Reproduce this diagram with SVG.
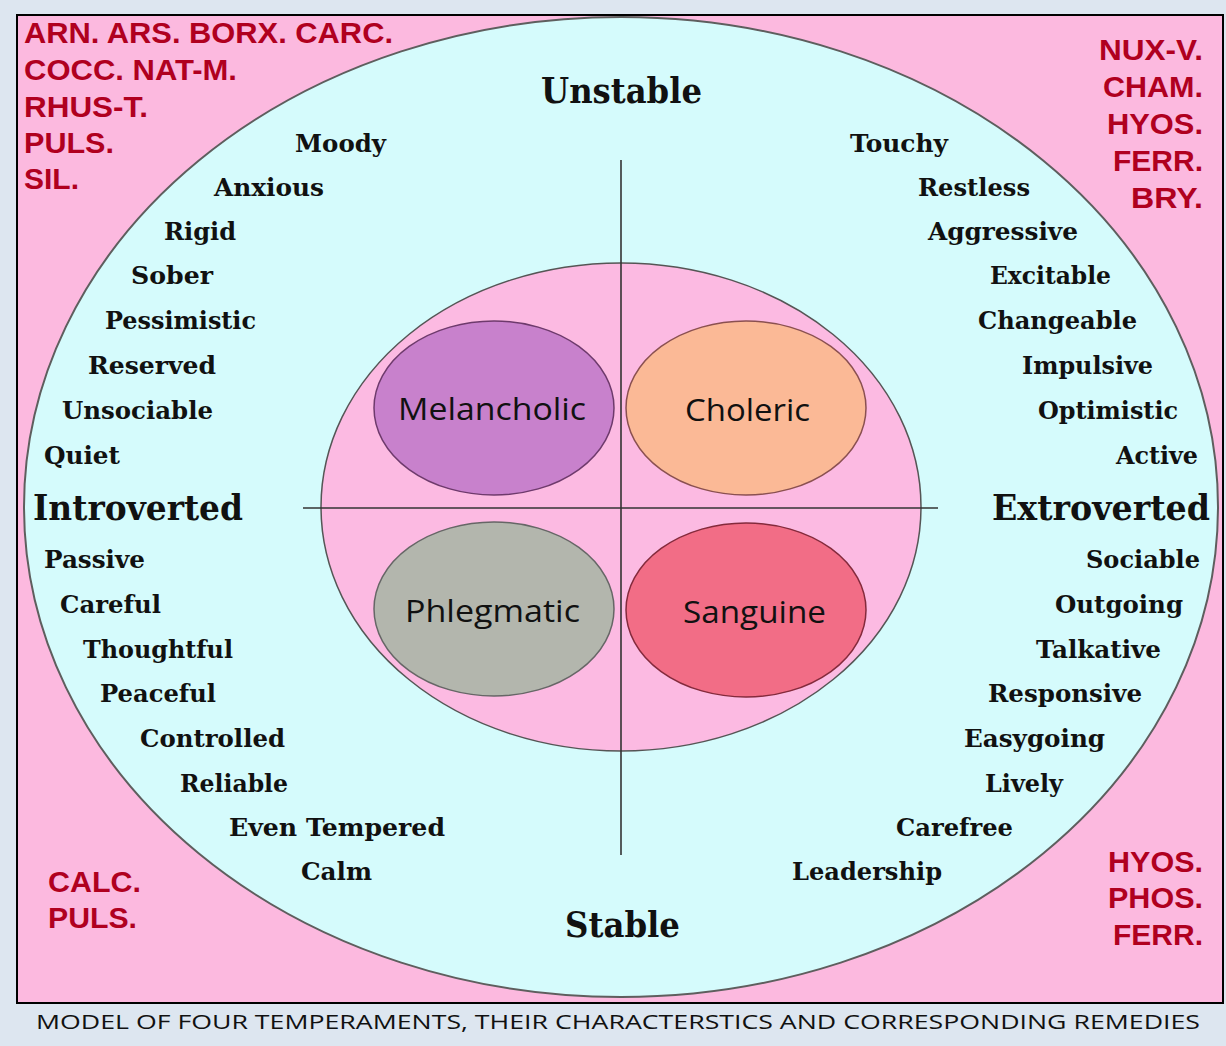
<svg xmlns="http://www.w3.org/2000/svg" width="1226" height="1046" viewBox="0 0 1226 1046">
<style>
.trait{font-family:"DejaVu Serif","Liberation Serif",serif;font-weight:bold;font-size:24px;fill:#111}
.axis{font-family:"DejaVu Serif","Liberation Serif",serif;font-weight:bold;font-size:36px;fill:#111}
.rem{font-family:"Liberation Sans",Arial,sans-serif;font-weight:bold;font-size:29px;fill:#b0001f}
.temp{font-family:"Open Sans","Noto Sans",sans-serif;font-size:31px;fill:#111}
.cap{font-family:"Open Sans","Noto Sans",sans-serif;font-size:20px;fill:#111}
.ln{stroke:#333;stroke-width:1.6;fill:none}
</style>
<rect x="0" y="0" width="1226" height="1046" fill="#dde6f0"/>
<g id="frame">
<rect x="17" y="15" width="1206" height="988" fill="#fcb9df" stroke="#000" stroke-width="2"/>
</g>
<g id="outer">
<ellipse cx="621" cy="507" rx="597" ry="490" fill="#d5fbfc" stroke="#5e5e5e" stroke-width="2"/>
</g>
<g id="inner">
<ellipse cx="621" cy="507" rx="300" ry="244" fill="#fcbae2" stroke="#555" stroke-width="1.5"/>
</g>
<g id="connectors">
<line class="ln" x1="621" y1="160" x2="621" y2="855"/>
<line class="ln" x1="303" y1="508" x2="938" y2="508"/>
</g>
<g id="melancholic">
<ellipse cx="494" cy="408" rx="120" ry="87" fill="#c881cc" stroke="#6e3a6c" stroke-width="1.5"/>
<text class="temp" x="398" y="420" textLength="188" lengthAdjust="spacingAndGlyphs">Melancholic</text>
</g>
<g id="choleric">
<ellipse cx="746" cy="408" rx="120" ry="87" fill="#fbb996" stroke="#8a5050" stroke-width="1.5"/>
<text class="temp" x="685" y="421" textLength="125" lengthAdjust="spacingAndGlyphs">Choleric</text>
</g>
<g id="phlegmatic">
<ellipse cx="494" cy="609" rx="120" ry="87" fill="#b3b6ad" stroke="#666" stroke-width="1.5"/>
<text class="temp" x="405" y="622" textLength="175" lengthAdjust="spacingAndGlyphs">Phlegmatic</text>
</g>
<g id="sanguine">
<ellipse cx="746" cy="610" rx="120" ry="87" fill="#f26d86" stroke="#842a3c" stroke-width="1.5"/>
<text class="temp" x="683" y="623" textLength="143" lengthAdjust="spacingAndGlyphs">Sanguine</text>
</g>
<g id="axes">
<text class="axis" x="541" y="103" textLength="161" lengthAdjust="spacingAndGlyphs">Unstable</text>
<text class="axis" x="565" y="937" textLength="115" lengthAdjust="spacingAndGlyphs">Stable</text>
<text class="axis" x="33" y="520" textLength="210" lengthAdjust="spacingAndGlyphs">Introverted</text>
<text class="axis" x="992" y="520" textLength="218" lengthAdjust="spacingAndGlyphs">Extroverted</text>
</g>
<g id="traits-left">
<text class="trait" x="295" y="152" textLength="91" lengthAdjust="spacingAndGlyphs">Moody</text>
<text class="trait" x="214" y="196" textLength="110" lengthAdjust="spacingAndGlyphs">Anxious</text>
<text class="trait" x="164" y="240" textLength="72" lengthAdjust="spacingAndGlyphs">Rigid</text>
<text class="trait" x="131" y="284" textLength="82" lengthAdjust="spacingAndGlyphs">Sober</text>
<text class="trait" x="105" y="329" textLength="151" lengthAdjust="spacingAndGlyphs">Pessimistic</text>
<text class="trait" x="88" y="374" textLength="128" lengthAdjust="spacingAndGlyphs">Reserved</text>
<text class="trait" x="62" y="419" textLength="151" lengthAdjust="spacingAndGlyphs">Unsociable</text>
<text class="trait" x="44" y="464" textLength="76" lengthAdjust="spacingAndGlyphs">Quiet</text>
<text class="trait" x="44" y="568" textLength="101" lengthAdjust="spacingAndGlyphs">Passive</text>
<text class="trait" x="60" y="613" textLength="101" lengthAdjust="spacingAndGlyphs">Careful</text>
<text class="trait" x="83" y="658" textLength="150" lengthAdjust="spacingAndGlyphs">Thoughtful</text>
<text class="trait" x="100" y="702" textLength="116" lengthAdjust="spacingAndGlyphs">Peaceful</text>
<text class="trait" x="140" y="747" textLength="145" lengthAdjust="spacingAndGlyphs">Controlled</text>
<text class="trait" x="180" y="792" textLength="108" lengthAdjust="spacingAndGlyphs">Reliable</text>
<text class="trait" x="229" y="836" textLength="216" lengthAdjust="spacingAndGlyphs">Even Tempered</text>
<text class="trait" x="301" y="880" textLength="71" lengthAdjust="spacingAndGlyphs">Calm</text>
</g>
<g id="traits-right">
<text class="trait" x="850" y="152" textLength="98" lengthAdjust="spacingAndGlyphs">Touchy</text>
<text class="trait" x="918" y="196" textLength="112" lengthAdjust="spacingAndGlyphs">Restless</text>
<text class="trait" x="928" y="240" textLength="150" lengthAdjust="spacingAndGlyphs">Aggressive</text>
<text class="trait" x="990" y="284" textLength="121" lengthAdjust="spacingAndGlyphs">Excitable</text>
<text class="trait" x="978" y="329" textLength="159" lengthAdjust="spacingAndGlyphs">Changeable</text>
<text class="trait" x="1022" y="374" textLength="131" lengthAdjust="spacingAndGlyphs">Impulsive</text>
<text class="trait" x="1038" y="419" textLength="140" lengthAdjust="spacingAndGlyphs">Optimistic</text>
<text class="trait" x="1116" y="464" textLength="82" lengthAdjust="spacingAndGlyphs">Active</text>
<text class="trait" x="1086" y="568" textLength="114" lengthAdjust="spacingAndGlyphs">Sociable</text>
<text class="trait" x="1055" y="613" textLength="128" lengthAdjust="spacingAndGlyphs">Outgoing</text>
<text class="trait" x="1036" y="658" textLength="125" lengthAdjust="spacingAndGlyphs">Talkative</text>
<text class="trait" x="988" y="702" textLength="154" lengthAdjust="spacingAndGlyphs">Responsive</text>
<text class="trait" x="964" y="747" textLength="141" lengthAdjust="spacingAndGlyphs">Easygoing</text>
<text class="trait" x="985" y="792" textLength="78" lengthAdjust="spacingAndGlyphs">Lively</text>
<text class="trait" x="896" y="836" textLength="117" lengthAdjust="spacingAndGlyphs">Carefree</text>
<text class="trait" x="792" y="880" textLength="150" lengthAdjust="spacingAndGlyphs">Leadership</text>
</g>
<g id="remedies-melancholic">
<text class="rem" x="24" y="43" textLength="369" lengthAdjust="spacingAndGlyphs">ARN. ARS. BORX. CARC.</text>
<text class="rem" x="24" y="80" textLength="213" lengthAdjust="spacingAndGlyphs">COCC. NAT-M.</text>
<text class="rem" x="24" y="117" textLength="124" lengthAdjust="spacingAndGlyphs">RHUS-T.</text>
<text class="rem" x="24" y="153" textLength="90" lengthAdjust="spacingAndGlyphs">PULS.</text>
<text class="rem" x="24" y="189" textLength="55" lengthAdjust="spacingAndGlyphs">SIL.</text>
</g>
<g id="remedies-choleric">
<text class="rem" x="1099" y="60" textLength="104" lengthAdjust="spacingAndGlyphs">NUX-V.</text>
<text class="rem" x="1103" y="97" textLength="100" lengthAdjust="spacingAndGlyphs">CHAM.</text>
<text class="rem" x="1107" y="134" textLength="96" lengthAdjust="spacingAndGlyphs">HYOS.</text>
<text class="rem" x="1113" y="171" textLength="90" lengthAdjust="spacingAndGlyphs">FERR.</text>
<text class="rem" x="1131" y="208" textLength="72" lengthAdjust="spacingAndGlyphs">BRY.</text>
</g>
<g id="remedies-phlegmatic">
<text class="rem" x="48" y="892" textLength="93" lengthAdjust="spacingAndGlyphs">CALC.</text>
<text class="rem" x="48" y="928" textLength="89" lengthAdjust="spacingAndGlyphs">PULS.</text>
</g>
<g id="remedies-sanguine">
<text class="rem" x="1108" y="872" textLength="95" lengthAdjust="spacingAndGlyphs">HYOS.</text>
<text class="rem" x="1108" y="908" textLength="95" lengthAdjust="spacingAndGlyphs">PHOS.</text>
<text class="rem" x="1113" y="945" textLength="90" lengthAdjust="spacingAndGlyphs">FERR.</text>
</g>
<g id="caption">
<text class="cap" x="36" y="1029" textLength="1164" lengthAdjust="spacingAndGlyphs">MODEL OF FOUR TEMPERAMENTS, THEIR CHARACTERSTICS AND CORRESPONDING REMEDIES</text>
</g>
</svg>
